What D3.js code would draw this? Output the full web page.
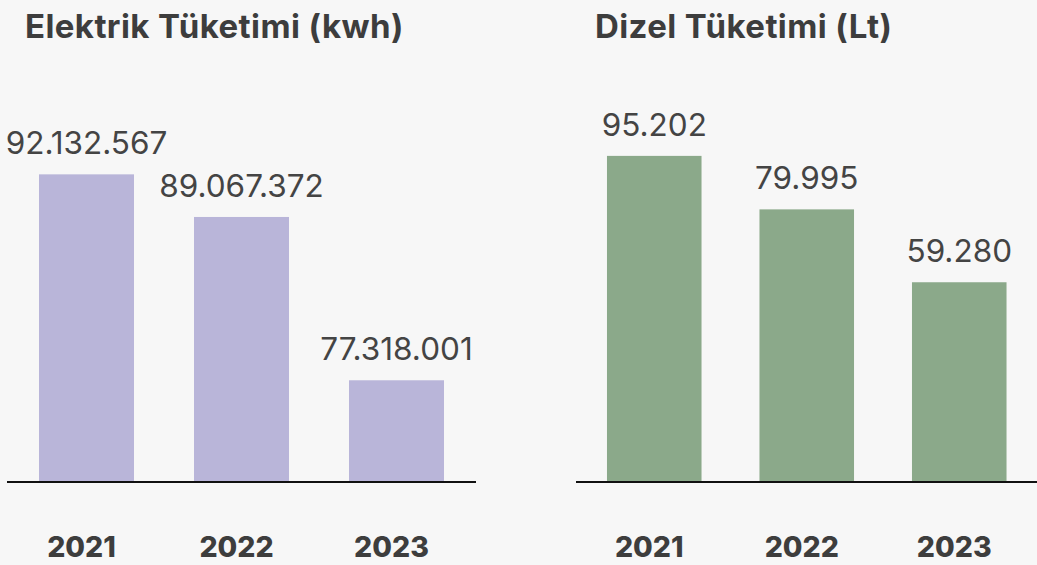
<!DOCTYPE html>
<html>
<head>
<meta charset="utf-8">
<script src="https://cdn.jsdelivr.net/npm/d3@7"></script>
<style>
  html, body { margin: 0; padding: 0; background: #f7f7f7; }
  svg { display: block; font-family: Inter, "Open Sans", sans-serif; }
</style>
</head>
<body>
<svg id="chart" width="1037" height="565"></svg>
<script>
// Data
const years = ['2021', '2022', '2023'];
const electricValues = [92132567, 89067372, 77318001];
const dieselValues = [95202, 79995, 59280];
const electricTitle = 'Elektrik Tüketimi (kwh)';
const dieselTitle = 'Dizel Tüketimi (Lt)';

const svg = d3.select('#chart');
const baseline = 482;

// format numbers with dots as thousands separator (Turkish style)
const trFormat = d3.formatLocale({ decimal: ',', thousands: '.', grouping: [3], currency: ['', ''] }).format(',d');

function drawPanel(opts) {
  const g = svg.append('g');

  const x = d3.scaleBand()
    .domain(years)
    .range(opts.xRange)
    .paddingInner(opts.padding)
    .paddingOuter(opts.padding / 2);

  const y = d3.scaleLinear()
    .domain(opts.yDomain)
    .range([baseline, opts.yTop]);

  const data = years.map((yr, i) => ({ year: yr, value: opts.values[i] }));

  // title
  g.append('text')
    .attr('x', opts.titleX)
    .attr('y', 38)
    .attr('font-size', 33)
    .attr('font-weight', 700)
    .attr('letter-spacing', 0.4)
    .attr('fill', '#3d3d3d')
    .text(opts.title);

  // bars
  g.selectAll('rect')
    .data(data)
    .join('rect')
    .attr('x', d => x(d.year))
    .attr('width', x.bandwidth())
    .attr('y', d => y(d.value))
    .attr('height', d => baseline - y(d.value))
    .attr('fill', opts.color);

  // value labels
  g.selectAll('text.val')
    .data(data)
    .join('text')
    .attr('class', 'val')
    .attr('x', d => x(d.year) + x.bandwidth() / 2)
    .attr('y', d => y(d.value) - 20)
    .attr('text-anchor', 'middle')
    .attr('font-size', 31.5)
    .attr('fill', '#444')
    .text(d => trFormat(d.value));

  // baseline
  g.append('line')
    .attr('x1', opts.axisX[0])
    .attr('x2', opts.axisX[1])
    .attr('y1', baseline)
    .attr('y2', baseline)
    .attr('stroke', '#111')
    .attr('stroke-width', 2);

  // year labels
  g.selectAll('text.yr')
    .data(data)
    .join('text')
    .attr('class', 'yr')
    .attr('x', d => x(d.year) + x.bandwidth() / 2 - 5)
    .attr('y', 557)
    .attr('text-anchor', 'middle')
    .attr('font-size', 28.5)
    .attr('font-weight', 800)
    .attr('fill', '#3d3d3d')
    .text(d => d.year);
}

drawPanel({
  title: electricTitle,
  values: electricValues,
  color: '#b9b5d9',
  xRange: [9, 474],
  padding: 0.387,
  yDomain: [70000000, 95000000],
  yTop: 134.5,
  titleX: 25,
  axisX: [7, 476]
});

drawPanel({
  title: dieselTitle,
  values: dieselValues,
  color: '#8ba98a',
  xRange: [578, 1035.5],
  padding: 0.38,
  yDomain: [2500, 100000],
  yTop: 139,
  titleX: 595,
  axisX: [576, 1037]
});
</script>
</body>
</html>
